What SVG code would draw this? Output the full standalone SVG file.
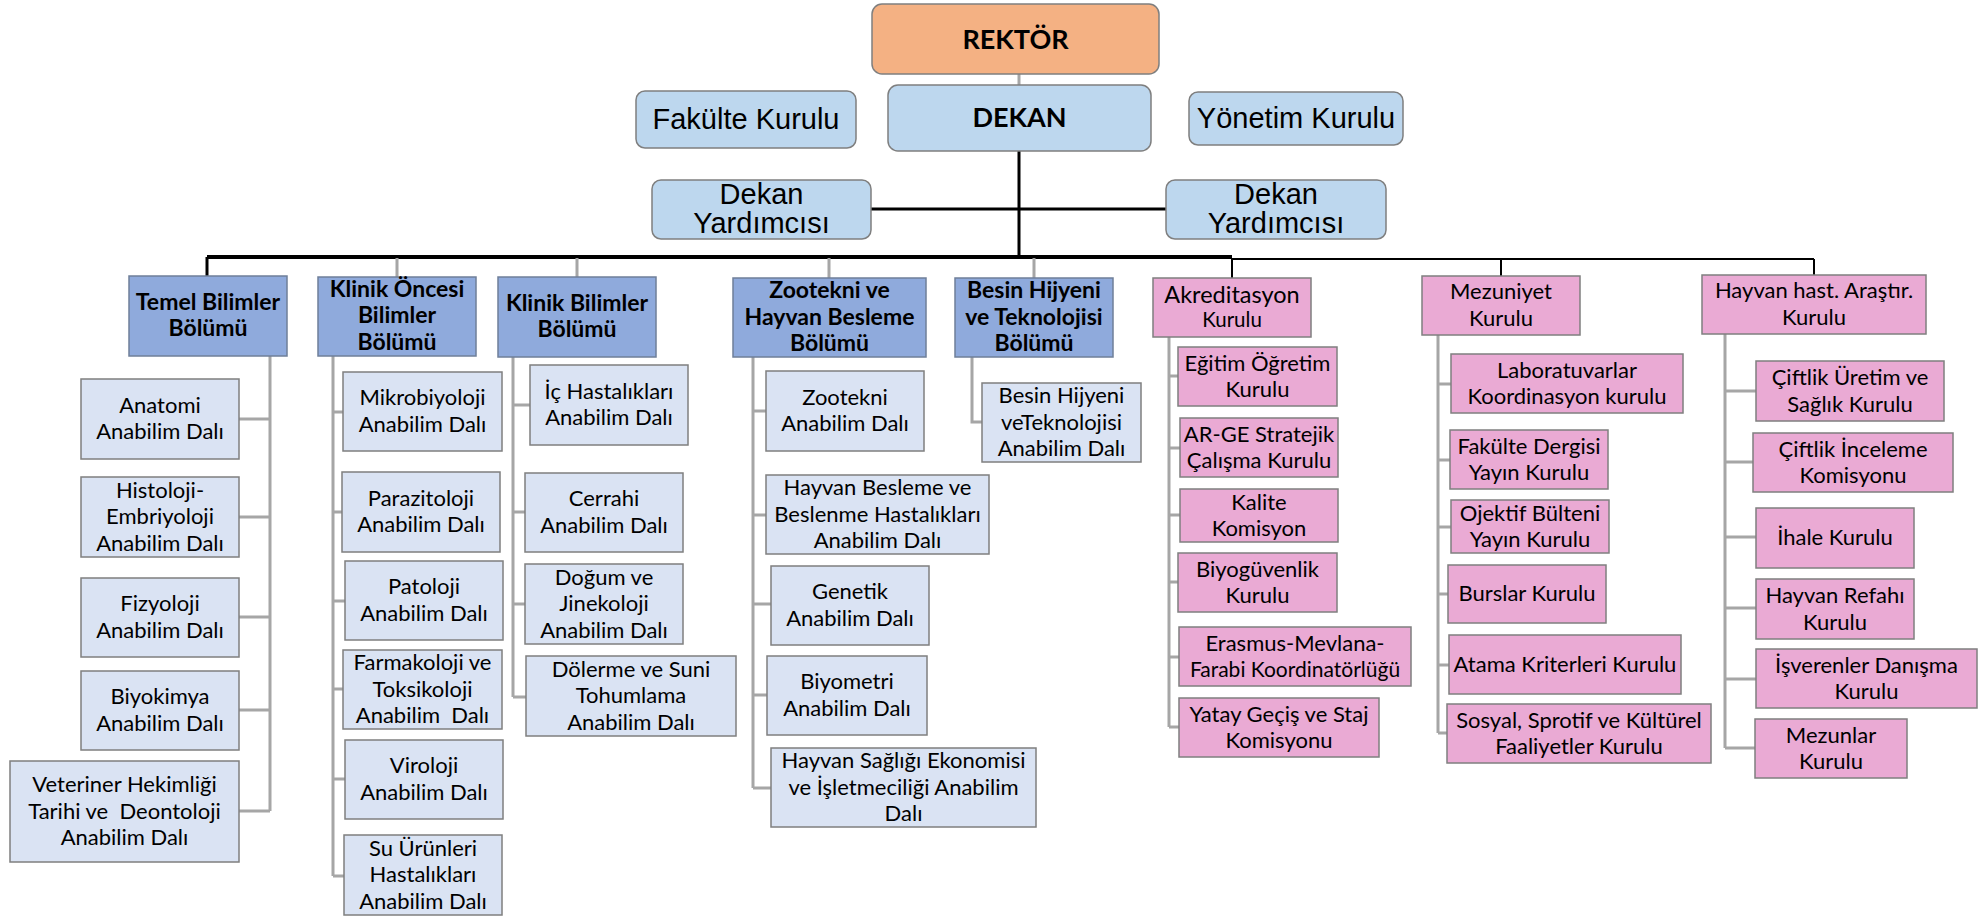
<svg xmlns="http://www.w3.org/2000/svg" width="1984" height="917" viewBox="0 0 1984 917">
<style>
.top rect{fill:#BDD7EE;stroke:#7F7F7F;stroke-width:1.5}
#rektor rect{fill:#F4B183}
.dep rect{fill:#8FAADC;stroke:#6F7F99;stroke-width:1.5}
.abd rect{fill:#DAE3F3;stroke:#7F7F7F;stroke-width:1.5}
.pk rect{fill:#EAAAD4;stroke:#7F7F7F;stroke-width:1.5}
text{font-family:Lato,"Liberation Sans",sans-serif;font-size:22px;fill:#000;text-anchor:middle;white-space:pre}
.bd{font-weight:bold;font-size:23px}
.ar{font-family:"Liberation Sans",Arial,sans-serif;font-size:29px}
.big{font-size:27px;font-weight:bold}
.sp{fill:none;stroke:#A6A6A6;stroke-width:3}
.bk{fill:none;stroke:#000;stroke-width:3}
.bt{fill:none;stroke:#000;stroke-width:2}
</style>
<g id="connectors">
<path class="sp" d="M1019,74V85" stroke-width="2"/>
<path class="bk" d="M1019,151V257M871,209H1166"/>
<path d="M207,257H1232" stroke="#000" stroke-width="4" fill="none"/>
<path d="M1232,259H1814" stroke="#000" stroke-width="2" fill="none"/>
<path class="bk" d="M207,257V276"/>
<path class="sp" stroke-width="2" d="M397,258V277M577,258V277M829,258V278M1034,258V278"/>
<path class="bt" d="M1232,259V278M1501,259V276M1814,259V275"/>
<path class="sp" d="M270,356V811M270,419H239M270,517H239M270,617H239M270,710H239M270,811H239"/>
<path class="sp" d="M333,356V876M333,412H343M333,512H342M333,601H345M333,689H343M333,779H345M333,876H344"/>
<path class="sp" d="M513,357V697M513,405H530M513,512H525M513,604H525M513,697H526"/>
<path class="sp" d="M753,357V788M753,411H766M753,515H766M753,604H771M753,695H767M753,788H771"/>
<path class="sp" d="M972,357V422H982"/>
<path class="sp" d="M1169,337V727M1169,376H1178M1169,448H1180M1169,515H1180M1169,582H1178M1169,657H1179M1169,727H1179"/>
<path class="sp" d="M1438,335V733M1438,384H1451M1438,460H1450M1438,527H1451M1438,594H1448M1438,665H1449M1438,733H1447"/>
<path class="sp" d="M1725,334V748M1725,391H1756M1725,462H1753M1725,537H1756M1725,608H1756M1725,679H1756M1725,748H1755"/>
</g>
<g class="top">
<g id="rektor"><rect x="872" y="4" width="287" height="70" rx="10"/><text class="big" x="1015.5" y="49">REKTÖR</text></g>
<g id="dekan"><rect x="888" y="85" width="263" height="66" rx="10"/><text class="big" x="1019.5" y="127">DEKAN</text></g>
<g id="fakulte-kurulu"><rect x="636" y="91" width="220" height="57" rx="9"/><text class="ar" x="746" y="129">Fakülte Kurulu</text></g>
<g id="yonetim-kurulu"><rect x="1189" y="92" width="214" height="53" rx="9"/><text class="ar" x="1296" y="128">Yönetim Kurulu</text></g>
<g id="dekan-yard-1"><rect x="652" y="180" width="219" height="59" rx="9"/><text class="ar"><tspan x="761.5" y="204">Dekan</tspan><tspan x="761.5" y="233">Yardımcısı</tspan></text></g>
<g id="dekan-yard-2"><rect x="1166" y="180" width="220" height="59" rx="9"/><text class="ar"><tspan x="1276" y="204">Dekan</tspan><tspan x="1276" y="233">Yardımcısı</tspan></text></g>
</g>
<g class="dep">
<g id="temel"><rect x="129" y="276" width="158" height="80"/><text class="bd"><tspan x="208" y="310">Temel Bilimler</tspan><tspan x="208" y="336">Bölümü</tspan></text></g>
<g id="klinik-oncesi"><rect x="318" y="277" width="158" height="79"/><text class="bd"><tspan x="397" y="296.5">Klinik Öncesi</tspan><tspan x="397" y="323">Bilimler</tspan><tspan x="397" y="349.5">Bölümü</tspan></text></g>
<g id="klinik"><rect x="498" y="277" width="158" height="80"/><text class="bd"><tspan x="577" y="311">Klinik Bilimler</tspan><tspan x="577" y="337">Bölümü</tspan></text></g>
<g id="zootekni"><rect x="733" y="278" width="193" height="79"/><text class="bd"><tspan x="829.5" y="298">Zootekni ve</tspan><tspan x="829.5" y="324.5">Hayvan Besleme</tspan><tspan x="829.5" y="351">Bölümü</tspan></text></g>
<g id="besin"><rect x="955" y="278" width="158" height="79"/><text class="bd"><tspan x="1034" y="298">Besin Hijyeni</tspan><tspan x="1034" y="324.5">ve Teknolojisi</tspan><tspan x="1034" y="351">Bölümü</tspan></text></g>
</g>
<g class="pk">
<g id="akreditasyon"><rect x="1153" y="278" width="158" height="59"/><text><tspan x="1232" y="303" font-size="23.5px">Akreditasyon</tspan><tspan x="1232" y="327" font-size="20.5px">Kurulu</tspan></text></g>
<g id="mezuniyet"><rect x="1422" y="276" width="158" height="59"/><text><tspan x="1501" y="299">Mezuniyet</tspan><tspan x="1501" y="325.5">Kurulu</tspan></text></g>
<g id="hayvan-hast"><rect x="1702" y="275" width="224" height="59"/><text><tspan x="1814" y="298">Hayvan hast. Araştır.</tspan><tspan x="1814" y="324.5">Kurulu</tspan></text></g>
</g>
<g class="abd">
<g id="anatomi"><rect x="81" y="379" width="158" height="80"/><text><tspan x="160" y="412.5">Anatomi</tspan><tspan x="160" y="439">Anabilim Dalı</tspan></text></g>
<g id="histoloji"><rect x="81" y="477" width="158" height="80"/><text><tspan x="160" y="497.5">Histoloji-</tspan><tspan x="160" y="524">Embriyoloji</tspan><tspan x="160" y="550.5">Anabilim Dalı</tspan></text></g>
<g id="fizyoloji"><rect x="81" y="578" width="158" height="79"/><text><tspan x="160" y="611">Fizyoloji</tspan><tspan x="160" y="637.5">Anabilim Dalı</tspan></text></g>
<g id="biyokimya"><rect x="81" y="671" width="158" height="79"/><text><tspan x="160" y="704">Biyokimya</tspan><tspan x="160" y="730.5">Anabilim Dalı</tspan></text></g>
<g id="veteriner"><rect x="10" y="761" width="229" height="101"/><text><tspan x="124.5" y="792">Veteriner Hekimliği</tspan><tspan x="124.5" y="818.5">Tarihi ve  Deontoloji</tspan><tspan x="124.5" y="845">Anabilim Dalı</tspan></text></g>
<g id="mikrobiyoloji"><rect x="343" y="372" width="159" height="79"/><text><tspan x="422.5" y="405">Mikrobiyoloji</tspan><tspan x="422.5" y="431.5">Anabilim Dalı</tspan></text></g>
<g id="parazitoloji"><rect x="342" y="472" width="158" height="80"/><text><tspan x="421" y="505.5">Parazitoloji</tspan><tspan x="421" y="532">Anabilim Dalı</tspan></text></g>
<g id="patoloji"><rect x="345" y="561" width="158" height="79"/><text><tspan x="424" y="594">Patoloji</tspan><tspan x="424" y="620.5">Anabilim Dalı</tspan></text></g>
<g id="farmakoloji"><rect x="343" y="650" width="159" height="79"/><text><tspan x="422.5" y="670">Farmakoloji ve</tspan><tspan x="422.5" y="696.5">Toksikoloji</tspan><tspan x="422.5" y="723">Anabilim  Dalı</tspan></text></g>
<g id="viroloji"><rect x="345" y="740" width="158" height="79"/><text><tspan x="424" y="773">Viroloji</tspan><tspan x="424" y="799.5">Anabilim Dalı</tspan></text></g>
<g id="su-urunleri"><rect x="344" y="835" width="158" height="80"/><text><tspan x="423" y="855.5">Su Ürünleri</tspan><tspan x="423" y="882">Hastalıkları</tspan><tspan x="423" y="908.5">Anabilim Dalı</tspan></text></g>
<g id="ic-hastaliklari"><rect x="530" y="365" width="158" height="80"/><text><tspan x="609" y="398.5">İç Hastalıkları</tspan><tspan x="609" y="425">Anabilim Dalı</tspan></text></g>
<g id="cerrahi"><rect x="525" y="473" width="158" height="79"/><text><tspan x="604" y="506">Cerrahi</tspan><tspan x="604" y="532.5">Anabilim Dalı</tspan></text></g>
<g id="dogum"><rect x="525" y="564" width="158" height="80"/><text><tspan x="604" y="584.5">Doğum ve</tspan><tspan x="604" y="611">Jinekoloji</tspan><tspan x="604" y="637.5">Anabilim Dalı</tspan></text></g>
<g id="dolerme"><rect x="526" y="656" width="210" height="80"/><text><tspan x="631" y="676.5">Dölerme ve Suni</tspan><tspan x="631" y="703">Tohumlama</tspan><tspan x="631" y="729.5">Anabilim Dalı</tspan></text></g>
<g id="zootekni-abd"><rect x="766" y="371" width="158" height="80"/><text><tspan x="845" y="404.5">Zootekni</tspan><tspan x="845" y="431">Anabilim Dalı</tspan></text></g>
<g id="hayvan-besleme"><rect x="766" y="475" width="223" height="79"/><text><tspan x="877.5" y="495">Hayvan Besleme ve</tspan><tspan x="877.5" y="521.5">Beslenme Hastalıkları</tspan><tspan x="877.5" y="548">Anabilim Dalı</tspan></text></g>
<g id="genetik"><rect x="771" y="566" width="158" height="79"/><text><tspan x="850" y="599">Genetik</tspan><tspan x="850" y="625.5">Anabilim Dalı</tspan></text></g>
<g id="biyometri"><rect x="767" y="656" width="160" height="79"/><text><tspan x="847" y="689">Biyometri</tspan><tspan x="847" y="715.5">Anabilim Dalı</tspan></text></g>
<g id="hs-ekonomi"><rect x="771" y="748" width="265" height="79"/><text><tspan x="903.5" y="768">Hayvan Sağlığı Ekonomisi</tspan><tspan x="903.5" y="794.5">ve İşletmeciliği Anabilim</tspan><tspan x="903.5" y="821">Dalı</tspan></text></g>
<g id="besin-abd"><rect x="982" y="383" width="159" height="79"/><text><tspan x="1061.5" y="403">Besin Hijyeni</tspan><tspan x="1061.5" y="429.5">veTeknolojisi</tspan><tspan x="1061.5" y="456">Anabilim Dalı</tspan></text></g>
</g>
<g class="pk">
<g id="egitim"><rect x="1178" y="347" width="159" height="59"/><text><tspan x="1257.5" y="370.5">Eğitim Öğretim</tspan><tspan x="1257.5" y="397">Kurulu</tspan></text></g>
<g id="arge"><rect x="1180" y="418" width="158" height="59"/><text><tspan x="1259" y="441.5">AR-GE Stratejik</tspan><tspan x="1259" y="468">Çalışma Kurulu</tspan></text></g>
<g id="kalite"><rect x="1180" y="489" width="158" height="53"/><text><tspan x="1259" y="509.5">Kalite</tspan><tspan x="1259" y="536">Komisyon</tspan></text></g>
<g id="biyoguvenlik"><rect x="1178" y="553" width="159" height="59"/><text><tspan x="1257.5" y="576.5">Biyogüvenlik</tspan><tspan x="1257.5" y="603">Kurulu</tspan></text></g>
<g id="erasmus"><rect x="1179" y="627" width="232" height="59"/><text><tspan x="1295" y="650.5">Erasmus-Mevlana-</tspan><tspan x="1295" y="677" font-size="21px">Farabi Koordinatörlüğü</tspan></text></g>
<g id="yatay"><rect x="1179" y="698" width="200" height="59"/><text><tspan x="1279" y="721.5">Yatay Geçiş ve Staj</tspan><tspan x="1279" y="748">Komisyonu</tspan></text></g>
<g id="laboratuvarlar"><rect x="1451" y="354" width="232" height="59"/><text><tspan x="1567" y="377.5">Laboratuvarlar</tspan><tspan x="1567" y="404">Koordinasyon kurulu</tspan></text></g>
<g id="dergi"><rect x="1450" y="430" width="158" height="59"/><text><tspan x="1529" y="453.5">Fakülte Dergisi</tspan><tspan x="1529" y="480">Yayın Kurulu</tspan></text></g>
<g id="ojektif"><rect x="1451" y="500" width="158" height="53"/><text><tspan x="1530" y="520.5">Ojektif Bülteni</tspan><tspan x="1530" y="547">Yayın Kurulu</tspan></text></g>
<g id="burslar"><rect x="1448" y="565" width="158" height="58"/><text x="1527" y="601">Burslar Kurulu</text></g>
<g id="atama"><rect x="1449" y="635" width="232" height="59"/><text x="1565" y="671.5">Atama Kriterleri Kurulu</text></g>
<g id="sosyal"><rect x="1447" y="704" width="264" height="59"/><text><tspan x="1579" y="727.5">Sosyal, Sprotif ve Kültürel</tspan><tspan x="1579" y="754">Faaliyetler Kurulu</tspan></text></g>
<g id="ciftlik-uretim"><rect x="1756" y="361" width="188" height="60"/><text><tspan x="1850" y="385">Çiftlik Üretim ve</tspan><tspan x="1850" y="411.5">Sağlık Kurulu</tspan></text></g>
<g id="ciftlik-inceleme"><rect x="1753" y="433" width="200" height="59"/><text><tspan x="1853" y="456.5">Çiftlik İnceleme</tspan><tspan x="1853" y="483">Komisyonu</tspan></text></g>
<g id="ihale"><rect x="1756" y="508" width="158" height="60"/><text x="1835" y="545">İhale Kurulu</text></g>
<g id="refah"><rect x="1756" y="579" width="158" height="60"/><text><tspan x="1835" y="603">Hayvan Refahı</tspan><tspan x="1835" y="629.5">Kurulu</tspan></text></g>
<g id="isverenler"><rect x="1756" y="649" width="221" height="59"/><text><tspan x="1866.5" y="672.5">İşverenler Danışma</tspan><tspan x="1866.5" y="699">Kurulu</tspan></text></g>
<g id="mezunlar"><rect x="1755" y="719" width="152" height="59"/><text><tspan x="1831" y="742.5">Mezunlar</tspan><tspan x="1831" y="769">Kurulu</tspan></text></g>
</g>
</svg>
